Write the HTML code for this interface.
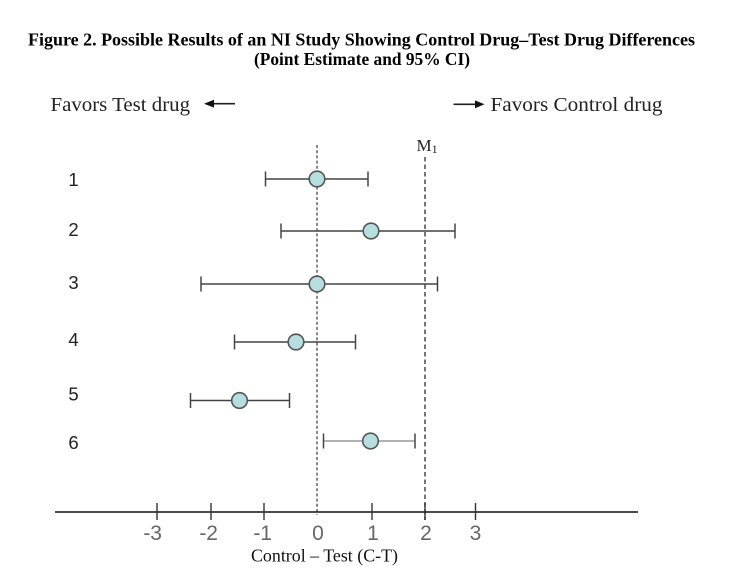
<!DOCTYPE html>
<html>
<head>
<meta charset="utf-8">
<style>
html,body{margin:0;padding:0;background:#fff;}
svg{display:block;}
</style>
</head>
<body>
<svg width="732" height="570" viewBox="0 0 732 570" xmlns="http://www.w3.org/2000/svg">
<rect width="732" height="570" fill="#fff"/>
<!-- Title -->
<text x="28" y="45.5" font-family="Liberation Serif, serif" font-weight="bold" font-size="17.5" fill="#000" textLength="667" lengthAdjust="spacingAndGlyphs">Figure 2.  Possible Results of an NI Study Showing Control Drug–Test Drug Differences</text>
<text x="254" y="65" font-family="Liberation Serif, serif" font-weight="bold" font-size="17.5" fill="#000" textLength="216" lengthAdjust="spacingAndGlyphs">(Point Estimate and 95% CI)</text>

<!-- Favors labels -->
<text x="50.5" y="111" font-family="Liberation Serif, serif" font-size="20" fill="#222" textLength="139.5" lengthAdjust="spacingAndGlyphs">Favors Test drug</text>
<line x1="212" y1="103.7" x2="235" y2="103.7" stroke="#222" stroke-width="1.6"/>
<polygon points="204,103.7 214,99.8 214,107.6" fill="#111"/>
<line x1="453.5" y1="104.3" x2="476" y2="104.3" stroke="#222" stroke-width="1.6"/>
<polygon points="484.5,104.3 475,100.4 475,108.2" fill="#111"/>
<text x="490.5" y="111" font-family="Liberation Serif, serif" font-size="20" fill="#222" textLength="172" lengthAdjust="spacingAndGlyphs">Favors Control drug</text>

<!-- M1 label -->
<text x="416.5" y="151" font-family="Liberation Serif, serif" font-size="17" fill="#222">M<tspan font-size="12" dy="2">1</tspan></text>

<!-- reference lines -->
<line x1="317" y1="145" x2="317" y2="515" stroke="#555" stroke-width="1.4" stroke-dasharray="3,2.2"/>
<line x1="425" y1="157" x2="425" y2="520" stroke="#555" stroke-width="1.6" stroke-dasharray="4.5,3"/>

<!-- Axis -->
<line x1="55" y1="512" x2="638" y2="512" stroke="#111" stroke-width="1.4"/>
<g stroke="#333" stroke-width="1.4">
<line x1="157" y1="503" x2="157" y2="520"/>
<line x1="211" y1="503" x2="211" y2="520"/>
<line x1="264" y1="503" x2="264" y2="520"/>
<line x1="372" y1="503" x2="372" y2="520"/>
<line x1="425" y1="503" x2="425" y2="520"/>
<line x1="475.5" y1="503" x2="475.5" y2="520"/>
</g>
<g font-family="Liberation Sans, Arial, sans-serif" font-size="21" fill="#666">
<text x="162" y="540" text-anchor="end">-3</text>
<text x="218" y="540" text-anchor="end">-2</text>
<text x="272" y="540" text-anchor="end">-1</text>
<text x="318" y="540" text-anchor="middle">0</text>
<text x="373" y="540" text-anchor="middle">1</text>
<text x="426" y="540" text-anchor="middle">2</text>
<text x="475.5" y="540" text-anchor="middle">3</text>
</g>
<text x="251" y="561.5" font-family="Liberation Serif, serif" font-size="18" fill="#111" textLength="147" lengthAdjust="spacingAndGlyphs">Control – Test (C-T)</text>

<!-- Row labels -->
<g font-family="Liberation Sans, Arial, sans-serif" font-size="18.5" fill="#222" text-anchor="middle">
<text x="73.5" y="186">1</text>
<text x="73.5" y="236">2</text>
<text x="73.5" y="289">3</text>
<text x="73.5" y="346">4</text>
<text x="73.5" y="400.5">5</text>
<text x="73.5" y="449">6</text>
</g>

<!-- Error bars -->
<g stroke="#444" stroke-width="1.5" fill="none">
<line x1="265.5" y1="179" x2="368" y2="179"/><line x1="265.5" y1="171.5" x2="265.5" y2="186.5"/><line x1="368" y1="171.5" x2="368" y2="186.5"/>
<line x1="281" y1="231" x2="455" y2="231"/><line x1="281" y1="223.5" x2="281" y2="238.5"/><line x1="455" y1="223.5" x2="455" y2="238.5"/>
<line x1="201" y1="284" x2="437.5" y2="284"/><line x1="201" y1="276.5" x2="201" y2="291.5"/><line x1="437.5" y1="276.5" x2="437.5" y2="291.5"/>
<line x1="234.5" y1="342" x2="355.5" y2="342"/><line x1="234.5" y1="334.5" x2="234.5" y2="349.5"/><line x1="355.5" y1="334.5" x2="355.5" y2="349.5"/>
<line x1="190.5" y1="400.5" x2="289.5" y2="400.5"/><line x1="190.5" y1="393" x2="190.5" y2="408"/><line x1="289.5" y1="393" x2="289.5" y2="408"/>
<line x1="323.5" y1="441" x2="415" y2="441" stroke="#999"/><line x1="323.5" y1="433.5" x2="323.5" y2="448.5"/><line x1="415" y1="433.5" x2="415" y2="448.5"/>
</g>

<!-- Points -->
<g fill="#b5dfdf" stroke="#555" stroke-width="1.6">
<circle cx="317" cy="179" r="7.8"/>
<circle cx="371" cy="231" r="7.8"/>
<circle cx="317" cy="284" r="7.8"/>
<circle cx="296" cy="342" r="7.8"/>
<circle cx="239.5" cy="400.5" r="7.8"/>
<circle cx="370.5" cy="441" r="7.8"/>
</g>
</svg>
</body>
</html>
